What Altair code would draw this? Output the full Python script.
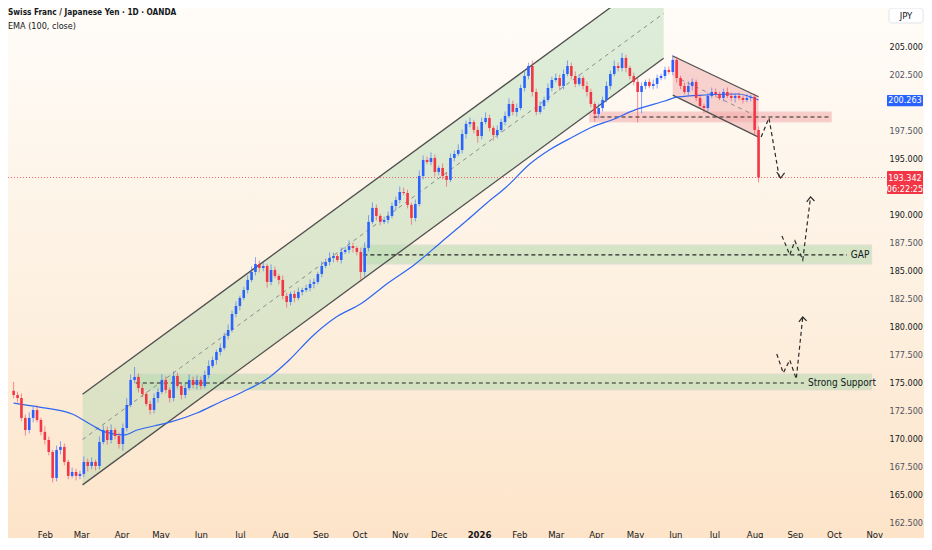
import altair as alt
import numpy as np
import pandas as pd

FONT = "DejaVu Sans Condensed, Liberation Sans Narrow, Roboto, sans-serif"
BLUE = "#2962ff"
RED = "#f23645"
INK = "#131722"

# ---------------- text ----------------
title_text = "Swiss Franc / Japanese Yen · 1D · OANDA"
indicator_text = "EMA (100, close)"
currency = "JPY"
gap_label = "GAP"
support_label = "Strong Support"
countdown = "06:22:25"

# ---------------- candles (3-day steps starting first_date) ----------------
first_date = "2025-01-08"
first_open = 174.30
closes = [
    173.93, 173.66, 171.88, 170.80, 171.88, 172.59, 171.70, 170.63, 169.91, 168.84, 166.52, 169.02,
    169.29, 167.95, 166.70, 167.05, 166.70, 166.88, 167.95, 167.59, 167.95, 167.59, 169.73, 170.80,
    169.91, 170.80, 170.27, 169.55, 170.98, 173.04, 175.27, 175.54, 174.55, 174.02, 173.13, 172.59,
    173.66, 174.20, 175.27, 174.38, 173.66, 175.63, 174.73, 173.93, 174.55, 175.27, 174.82, 175.27,
    174.73, 175.71, 176.52, 177.05, 177.77, 178.13, 179.20, 179.73, 181.16, 181.88, 182.59, 183.30,
    184.20, 184.91, 185.63, 185.27, 185.45, 184.02, 185.09, 184.55, 184.20, 182.77, 182.23, 182.95,
    182.59, 183.13, 183.30, 183.48, 183.84, 184.02, 184.73, 185.45, 185.80, 186.16, 186.34, 185.98,
    186.70, 186.88, 187.23, 187.05, 186.70, 184.91, 187.05, 189.38, 190.63, 189.91, 189.38, 189.55,
    189.91, 190.80, 191.34, 192.05, 191.96, 190.89, 189.73, 190.98, 193.48, 194.91, 194.73, 195.09,
    193.84, 194.20, 193.48, 193.13, 195.09, 195.45, 195.80, 197.23, 198.13, 198.30, 197.59, 197.05,
    198.30, 198.66, 197.77, 197.14, 197.59, 198.30, 198.84, 199.91, 199.20, 199.55, 201.34, 202.41,
    203.30, 200.98, 199.20, 199.73, 200.27, 201.34, 202.05, 202.23, 201.52, 202.59, 203.30, 202.41,
    201.70, 202.23, 201.52, 200.98, 199.91, 199.02, 199.55, 200.27, 201.52, 202.59, 203.30, 203.12,
    204.02, 203.13, 202.41, 201.88, 200.98, 201.52, 201.88, 201.52, 201.70, 202.23, 202.41, 202.95,
    202.77, 203.84, 202.23, 201.52, 200.98, 201.52, 201.88, 200.45, 199.73, 199.55, 200.63, 200.98,
    200.80, 200.45, 200.98, 200.63, 200.45, 200.63, 200.45, 200.27, 200.45, 200.54, 197.59, 193.34,
]
wick_up = [
    0.8, 0.3, 0.4, 0.3, 0.5, 0.3, 0.4, 0.2, 0.5, 0.3, 0.2, 0.4,
    0.5, 0.3, 0.2, 0.4, 0.3, 0.3, 0.5, 0.3, 0.4, 0.2, 0.5, 0.4,
    0.3, 0.5, 0.2, 0.3, 0.4, 0.6, 0.5, 0.9, 0.3, 0.4, 0.2, 0.3,
    0.4, 0.3, 0.5, 0.3, 0.2, 0.4, 0.3, 0.2, 0.4, 0.5, 0.3, 0.4,
    0.3, 0.4, 0.5, 0.3, 0.2, 0.4, 0.3, 0.5, 0.3, 0.4, 0.2, 0.3,
    0.4, 0.5, 0.6, 0.3, 0.4, 0.2, 0.5, 0.3, 0.2, 0.4, 0.3, 0.2,
    0.3, 0.4, 0.2, 0.3, 0.4, 0.3, 0.2, 0.4, 0.3, 0.5, 0.3, 0.2,
    0.4, 0.3, 0.5, 0.3, 0.2, 0.4, 0.5, 0.6, 0.5, 0.3, 0.2, 0.3,
    0.4, 0.3, 0.3, 0.5, 0.4, 0.3, 0.2, 0.4, 0.5, 0.4, 0.3, 0.5,
    0.3, 0.2, 0.4, 0.3, 0.4, 0.3, 0.5, 0.4, 0.3, 0.4, 0.2, 0.3,
    0.4, 0.5, 0.3, 0.2, 0.4, 0.3, 0.4, 0.5, 0.3, 0.4, 0.3, 0.4,
    0.3, 0.5, 0.3, 0.4, 0.3, 0.4, 0.3, 0.4, 0.3, 0.4, 0.5, 0.3,
    0.4, 0.3, 0.2, 0.4, 0.3, 0.2, 0.4, 0.3, 0.4, 0.3, 0.5, 0.3,
    0.45, 0.3, 0.2, 0.3, 0.4, 0.3, 0.2, 0.3, 0.4, 0.3, 0.2, 0.3,
    0.3, 0.45, 0.3, 0.2, 0.3, 0.4, 0.3, 0.2, 0.3, 0.2, 0.3, 0.4,
    0.3, 0.2, 0.3, 0.4, 0.3, 0.2, 0.3, 0.2, 0.3, 0.2, 0.3, 0.3,
]
wick_dn = [
    0.3, 0.4, 0.3, 0.5, 0.3, 0.4, 0.2, 0.3, 0.4, 0.3, 0.4, 0.3,
    0.4, 0.3, 0.3, 0.2, 0.4, 0.3, 0.3, 0.5, 0.3, 0.4, 0.3, 0.2,
    0.4, 0.3, 0.3, 0.4, 0.6, 0.3, 0.2, 0.3, 0.4, 0.3, 0.2, 0.4,
    0.3, 0.4, 0.2, 0.3, 0.4, 0.3, 0.2, 0.4, 0.3, 0.2, 0.3, 0.4,
    0.3, 0.2, 0.3, 0.2, 0.4, 0.3, 0.2, 0.3, 0.2, 0.3, 0.4, 0.2,
    0.3, 0.2, 0.3, 0.4, 0.3, 0.5, 0.3, 0.2, 0.4, 0.3, 0.5, 0.3,
    0.4, 0.2, 0.3, 0.2, 0.3, 0.4, 0.2, 0.3, 0.2, 0.3, 0.4, 0.2,
    0.3, 0.2, 0.3, 0.4, 0.3, 0.7, 0.4, 0.3, 0.2, 0.4, 0.3, 0.2,
    0.3, 0.2, 0.4, 0.3, 0.2, 0.3, 0.6, 0.3, 0.2, 0.3, 0.2, 0.3,
    0.4, 0.3, 0.3, 0.6, 0.2, 0.3, 0.2, 0.3, 0.4, 0.3, 0.3, 0.6,
    0.3, 0.2, 0.3, 0.5, 0.3, 0.2, 0.3, 0.2, 0.3, 0.4, 0.2, 0.3,
    0.3, 0.4, 0.3, 0.2, 0.3, 0.2, 0.3, 0.2, 0.4, 0.3, 0.2, 0.3,
    0.3, 0.2, 0.3, 0.4, 0.3, 0.7, 0.4, 0.3, 0.2, 0.3, 0.2, 0.3,
    0.3, 0.4, 0.3, 0.3, 2.7, 1.9, 0.3, 0.2, 0.3, 0.4, 0.2, 0.3,
    0.2, 0.3, 0.4, 0.3, 0.2, 0.3, 0.4, 0.3, 0.2, 0.45, 0.3, 0.2,
    0.3, 0.2, 0.3, 0.2, 0.3, 0.4, 0.2, 0.3, 0.2, 0.3, 0.4, 0.44,
]

# ---------------- EMA (100) ----------------
ema_dates = [
    "2025-01-08", "2025-01-27", "2025-02-22", "2025-03-09", "2025-03-19", "2025-04-03",
    "2025-04-13", "2025-04-26", "2025-05-09", "2025-05-29", "2025-06-16", "2025-07-03",
    "2025-07-24", "2025-08-08", "2025-08-26", "2025-09-12", "2025-10-03", "2025-10-23",
    "2025-11-12", "2025-12-03", "2025-12-23", "2026-01-07", "2026-01-22", "2026-02-09",
    "2026-02-24", "2026-03-14", "2026-03-29", "2026-04-13", "2026-05-01", "2026-05-24",
    "2026-06-03", "2026-06-24", "2026-07-19", "2026-08-04",
]
ema_values = [
    173.21, 172.86, 172.23, 171.25, 170.63, 170.36,
    170.80, 171.16, 171.52, 172.32, 173.30, 174.20,
    175.54, 177.05, 179.20, 180.80, 182.14, 183.93,
    185.54, 187.59, 189.55, 191.07, 192.50, 194.55,
    195.80, 196.96, 197.86, 198.48, 199.38, 200.18,
    200.54, 200.71, 200.80, 200.263,
]
ema_last = 200.263
last_price = 193.342

# ---------------- drawings ----------------
up_channel_dates = ["2025-03-02", "2026-05-23"]
up_channel_lower = [165.90, 204.00]
up_channel_upper = [174.00, 212.00]
up_channel_mid = [169.95, 208.00]

down_channel_dates = ["2026-05-30", "2026-08-04"]
down_channel_upper = [204.20, 200.55]
down_channel_lower = [200.70, 196.95]
down_mid_dates = ["2026-06-05", "2026-07-30"]
down_mid_values = [202.11, 199.01]

res_start, res_end, res_low, res_high = "2026-03-27", "2026-09-29", 198.30, 199.20
green_start = ["2025-10-03", "2025-04-12"]
green_end = ["2026-10-30", "2026-10-30"]
green_low = [185.62, 174.38]
green_high = [187.32, 175.80]
level_value = [198.75, 186.43, 175.00]
level_start = ["2026-03-30", "2025-10-04", "2025-04-12"]
level_end = ["2026-09-27", "2026-10-11", "2026-09-08"]

label_text = [gap_label, support_label]
label_date = ["2026-10-14", "2026-09-11"]
label_price = [186.43, 175.00]

proj_id = ["a"] * 3 + ["b"] * 5 + ["c"] * 5
proj_dates = ["2026-08-06", "2026-08-12", "2026-08-20",
              "2026-08-22", "2026-08-28", "2026-09-01", "2026-09-07", "2026-09-13",
              "2026-08-18", "2026-08-23", "2026-08-28", "2026-09-02", "2026-09-07"]
proj_prices = [196.96, 198.66, 193.30,
               188.13, 186.43, 187.68, 185.98, 191.61,
               177.59, 175.89, 177.05, 175.36, 180.89]
head_id = ["a"] * 3 + ["b"] * 3 + ["c"] * 3
head_dates = ["2026-08-18", "2026-08-21", "2026-08-24",
              "2026-09-10", "2026-09-13", "2026-09-16",
              "2026-09-04", "2026-09-07", "2026-09-10"]
head_prices = [193.84, 193.30, 193.75,
               191.16, 191.61, 191.25,
               180.45, 180.89, 180.54]

# 200.000 and 192.500 sit under the price badges in the reference
price_ticks = [162.5, 165.0, 167.5, 170.0, 172.5, 175.0, 177.5, 180.0, 182.5,
               185.0, 187.5, 190.0, 195.0, 197.5, 202.5, 205.0]
month_ticks = [(2025, m) for m in range(2, 13)] + [(2026, m) for m in range(1, 12)]

# ---------------- layout ----------------
W, H = 877, 518
TOTAL_W, TOTAL_H = 916, 530

xscale = alt.Scale(type="utc", domain=[
    alt.DateTime(year=2025, month=1, date=7, hours=12, utc=True),
    alt.DateTime(year=2026, month=11, date=5, hours=10, utc=True)])
yscale = alt.Scale(domain=[162.23, 208.48], zero=False, nice=False)

x_axis = alt.Axis(
    values=[alt.DateTime(year=y, month=m, date=1, utc=True) for y, m in month_ticks],
    labelExpr="utcFormat(datum.value, '%m') == '01' ? utcFormat(datum.value, '%Y') : utcFormat(datum.value, '%b')",
    labelFontWeight={"condition": {"test": "utcFormat(datum.value, '%m') == '01'", "value": "bold"},
                     "value": "normal"},
    grid=False, domain=False, ticks=False, tickSize=0, labelPadding=3, labelFontSize=9.5, labelFont=FONT,
    labelColor=INK, title=None, labelOverlap=False, labelFlush=False, zindex=2)
y_axis = alt.Axis(
    orient="right", values=price_ticks, format=".3f", grid=False, domain=False, ticks=False, tickSize=0,
    labelPadding=4, labelFontSize=9, labelFont=FONT, title=None, zindex=2, labelFlush=False,
    labelColor={"condition": {"test": "datum.value % 5 == 0", "value": INK}, "value": "#50535e"})


def X(field):
    return alt.X(field, type="temporal", scale=xscale, axis=x_axis)


def Y(field):
    return alt.Y(field, type="quantitative", scale=yscale, axis=y_axis)


# ---------------- data frames ----------------
dates = pd.date_range(first_date, periods=len(closes), freq="3D").strftime("%Y-%m-%d")
opens = [first_open] + closes[:-1]
cdf = pd.DataFrame({"date": dates, "open": opens, "close": closes})
cdf["high"] = cdf[["open", "close"]].max(axis=1) + np.array(wick_up)
cdf["low"] = cdf[["open", "close"]].min(axis=1) - np.array(wick_dn)
cdf["dir"] = np.where(cdf["close"] >= cdf["open"], "up", "down")

color_enc = alt.Color("dir:N", scale=alt.Scale(domain=["up", "down"], range=[BLUE, RED]), legend=None)

gradient = alt.LinearGradient(
    gradient="linear",
    stops=[alt.GradientStop(color="#fffcf8", offset=0),
           alt.GradientStop(color="#fdf0e0", offset=0.55),
           alt.GradientStop(color="#fde4c9", offset=1)],
    x1=0, x2=0, y1=0, y2=1)

one = pd.DataFrame({"k": [0]})
bg = alt.Chart(one).mark_rect(fill=gradient).encode(
    x=alt.value(0), x2=alt.value(TOTAL_W), y=alt.value(0), y2=alt.value(TOTAL_H))

# up channel
updf = pd.DataFrame({"date": up_channel_dates, "lower": up_channel_lower,
                     "upper": up_channel_upper, "mid": up_channel_mid})
up_fill = alt.Chart(updf).mark_area(color="#a5d6a7", opacity=0.38, clip=True).encode(
    x=X("date"), y=Y("lower"), y2=alt.Y2("upper"))
up_edges = alt.Chart(updf).transform_fold(["lower", "upper"], as_=["edge", "price"]).mark_line(
    color="#4f4f4f", strokeWidth=1.3, clip=True).encode(x=X("date"), y=Y("price"), detail="edge:N")
up_mid = alt.Chart(updf).mark_line(color="#8c8c8c", strokeWidth=1, strokeDash=[4, 4], clip=True).encode(
    x=X("date"), y=Y("mid"))

# down channel
dndf = pd.DataFrame({"date": down_channel_dates, "lower": down_channel_lower, "upper": down_channel_upper})
dn_fill = alt.Chart(dndf).mark_area(color="#ef9a9a", opacity=0.42).encode(
    x=X("date"), y=Y("lower"), y2=alt.Y2("upper"))
dn_edges = alt.Chart(dndf).transform_fold(["lower", "upper"], as_=["edge", "price"]).mark_line(
    color="#4f4f4f", strokeWidth=1.2).encode(x=X("date"), y=Y("price"), detail="edge:N")
dnmid = pd.DataFrame({"date": down_mid_dates, "price": down_mid_values})
dn_mid = alt.Chart(dnmid).mark_line(color="#8c8c8c", strokeWidth=1, strokeDash=[4, 4]).encode(
    x=X("date"), y=Y("price"))

# zones
rdf = pd.DataFrame({"start": [res_start], "end": [res_end], "low": [res_low], "high": [res_high]})
res_zone = alt.Chart(rdf).mark_rect(fill="#f4a9a9", stroke="#efb9b9", strokeWidth=1, opacity=0.55).encode(
    x=X("start"), x2=alt.X2("end"), y=Y("low"), y2=alt.Y2("high"))
gdf = pd.DataFrame({"start": green_start, "end": green_end, "low": green_low, "high": green_high})
green_zones = alt.Chart(gdf).mark_rect(fill="#b9dcb2", stroke="#cfd3cc", strokeWidth=1, opacity=0.6).encode(
    x=X("start"), x2=alt.X2("end"), y=Y("low"), y2=alt.Y2("high"))
lvdf = pd.DataFrame({"level": level_value, "ls": level_start, "le": level_end})
levels = alt.Chart(lvdf).mark_rule(color="#262626", strokeWidth=1.2, strokeDash=[4, 3]).encode(
    x=X("ls"), x2=alt.X2("le"), y=Y("level"))

ldf = pd.DataFrame({"text": label_text, "date": label_date, "price": label_price})
labels = alt.Chart(ldf).mark_text(align="left", baseline="middle", fontSize=10, font=FONT,
                                   color=INK).encode(x=X("date"), y=Y("price"), text="text:N")

# current price dotted line
pdf = pd.DataFrame({"price": [last_price]})
price_line = alt.Chart(pdf).mark_rule(color=RED, strokeWidth=1, strokeDash=[1, 2], opacity=0.75).encode(
    x=alt.value(0), x2=alt.value(W), y=Y("price"))

# EMA
edf = pd.DataFrame({"date": ema_dates, "ema": ema_values})
ema = alt.Chart(edf).mark_line(color="#2f67f0", strokeWidth=1.2, interpolate="monotone").encode(
    x=X("date"), y=Y("ema"))

# candles
wicks = alt.Chart(cdf).mark_rule(strokeWidth=1, opacity=0.55).encode(
    x=X("date"), y=Y("low"), y2=alt.Y2("high"), color=color_enc)
bodies = alt.Chart(cdf).mark_bar(width=2.6).encode(
    x=X("date"), y=Y("open"), y2=alt.Y2("close"), color=color_enc)

# projections
prdf = pd.DataFrame({"id": proj_id, "date": proj_dates, "price": proj_prices,
                     "k": list(range(len(proj_id)))})
proj = alt.Chart(prdf).mark_line(color="#2b2b2b", strokeWidth=1.2, strokeDash=[4, 3]).encode(
    x=X("date"), y=Y("price"), detail="id:N", order="k:Q")
hdf = pd.DataFrame({"id": head_id, "date": head_dates, "price": head_prices,
                    "k": list(range(len(head_id)))})
heads = alt.Chart(hdf).mark_line(color="#2b2b2b", strokeWidth=1.2).encode(
    x=X("date"), y=Y("price"), detail="id:N", order="k:Q")

# badges on the price scale
ema_badge = alt.Chart(pd.DataFrame({"top": [ema_last + 0.45], "bottom": [ema_last - 0.55]})).mark_rect(
    fill=BLUE, cornerRadius=1).encode(
    x=alt.value(W + 2), x2=alt.value(TOTAL_W - 1), y=Y("top"), y2=alt.Y2("bottom"))
last_badge = alt.Chart(pd.DataFrame({"top": [last_price + 0.58], "bottom": [last_price - 1.46]})).mark_rect(
    fill=RED, cornerRadius=1).encode(
    x=alt.value(W + 2), x2=alt.value(TOTAL_W - 1), y=Y("top"), y2=alt.Y2("bottom"))
btdf = pd.DataFrame({"text": [f"{ema_last:.3f}", f"{last_price:.3f}", countdown],
                     "price": [ema_last, last_price, last_price - 1.0]})
badge_text = alt.Chart(btdf).mark_text(align="center", baseline="middle", fontSize=9, font=FONT,
                                       color="white").encode(
    x=alt.value((W + 2 + TOTAL_W - 1) / 2), y=Y("price"), text="text:N")

# JPY box
jpy_box = alt.Chart(one).mark_rect(fill="white", stroke="#e0e3eb", cornerRadius=3).encode(
    x=alt.value(W + 4), x2=alt.value(TOTAL_W - 1), y=alt.value(0), y2=alt.value(15))
jpy_text = alt.Chart(pd.DataFrame({"t": [currency]})).mark_text(
    align="center", baseline="middle", fontSize=9.5, font=FONT, color=INK).encode(
    x=alt.value((W + 4 + TOTAL_W - 1) / 2), y=alt.value(7.5), text="t:N")

# header
hdr1 = alt.Chart(pd.DataFrame({"t": [title_text]})).mark_text(
    align="left", baseline="middle", fontSize=8.2, fontWeight="bold", font=FONT, color=INK).encode(
    x=alt.value(0), y=alt.value(5), text="t:N")
hdr2 = alt.Chart(pd.DataFrame({"t": [indicator_text]})).mark_text(
    align="left", baseline="middle", fontSize=9, font=FONT, color=INK).encode(
    x=alt.value(0), y=alt.value(18), text="t:N")

chart = alt.layer(
    bg, up_fill, dn_fill, res_zone, green_zones, up_edges, up_mid, dn_edges, dn_mid, levels,
    price_line, ema, wicks, bodies, proj, heads, labels, ema_badge, last_badge, badge_text,
    jpy_box, jpy_text, hdr1, hdr2,
).properties(
    width=W, height=H,
    padding={"left": 0, "top": 0, "right": TOTAL_W - W, "bottom": TOTAL_H - H},
    autosize=alt.AutoSizeParams(type="none"),
).configure_view(stroke=None).configure(background="#fdf0e0")

chart.save("out.html", embed_options={"renderer": "svg", "actions": False})
